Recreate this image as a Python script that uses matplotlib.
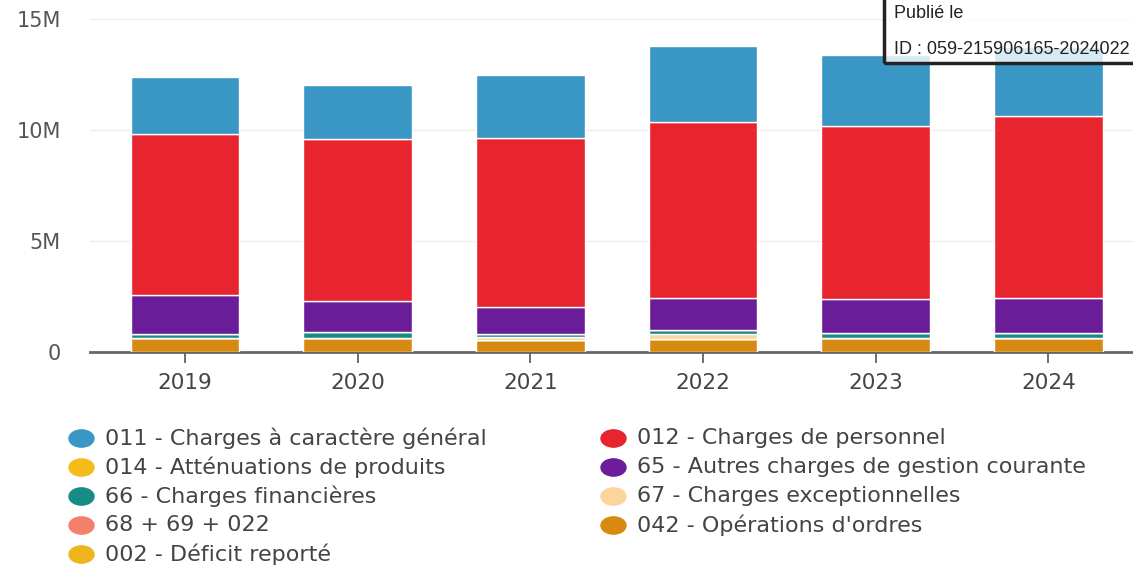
import matplotlib.pyplot as plt
from matplotlib.patches import Rectangle
from matplotlib.lines import Line2D
from matplotlib.markers import MarkerStyle
from matplotlib.path import Path
from matplotlib.transforms import Affine2D
from matplotlib.ticker import FuncFormatter

years = ["2019", "2020", "2021", "2022", "2023", "2024"]

# Dépenses de fonctionnement par chapitre (euros)
ch_042 = [0.63e6, 0.63e6, 0.54e6, 0.58e6, 0.63e6, 0.63e6]
ch_002 = [0, 0, 0, 0, 0, 0]
ch_68_69_022 = [0, 0, 0, 0, 0, 0]
ch_67 = [0, 0, 0.15e6, 0.22e6, 0, 0]
ch_66 = [0.20e6, 0.25e6, 0.12e6, 0.18e6, 0.22e6, 0.22e6]
ch_014 = [0, 0, 0, 0, 0, 0]
ch_65 = [1.72e6, 1.41e6, 1.21e6, 1.43e6, 1.52e6, 1.56e6]
ch_012 = [7.29e6, 7.31e6, 7.61e6, 7.97e6, 7.79e6, 8.24e6]
ch_011 = [2.53e6, 2.44e6, 2.85e6, 3.42e6, 3.23e6, 3.10e6]

# Empilement du bas vers le haut
stack = [
    ("042 - Opérations d'ordres", ch_042, "#d68a12"),
    ("002 - Déficit reporté", ch_002, "#f0b41c"),
    ("68 + 69 + 022", ch_68_69_022, "#f4806c"),
    ("67 - Charges exceptionnelles", ch_67, "#fcd49c"),
    ("66 - Charges financières", ch_66, "#178b86"),
    ("014 - Atténuations de produits", ch_014, "#f5bb1a"),
    ("65 - Autres charges de gestion courante", ch_65, "#6b1d99"),
    ("012 - Charges de personnel", ch_012, "#e8242e"),
    ("011 - Charges à caractère général", ch_011, "#3a96c4"),
]

# Ordre d'affichage de la légende (lignes de deux)
legend_order = [
    "011 - Charges à caractère général", "012 - Charges de personnel",
    "014 - Atténuations de produits", "65 - Autres charges de gestion courante",
    "66 - Charges financières", "67 - Charges exceptionnelles",
    "68 + 69 + 022", "042 - Opérations d'ordres",
    "002 - Déficit reporté",
]

fig = plt.figure(figsize=(11.33, 5.69), dpi=100)
ax = fig.add_axes([90 / 1133, 217 / 569, 1 - 90 / 1133, 333 / 569])

x = range(len(years))
bottom = [0.0] * len(years)
for name, vals, color in stack:
    ax.bar(x, vals, width=0.63, bottom=bottom, color=color,
           edgecolor="white", linewidth=1.0, zorder=3)
    bottom = [b + v for b, v in zip(bottom, vals)]

ax.set_xlim(-0.55, 5.49)
ax.set_ylim(0, 15e6)
ax.set_yticks([0, 5e6, 10e6, 15e6])
ax.yaxis.set_major_formatter(FuncFormatter(lambda v, p: "0" if v == 0 else f"{v / 1e6:.0f}M"))
ax.set_xticks(list(x))
ax.set_xticklabels(years)

ax.grid(axis="y", color="#eeeeee", linewidth=1, zorder=0)
for s in ["top", "right", "left"]:
    ax.spines[s].set_visible(False)
ax.spines["bottom"].set_color("#666666")
ax.spines["bottom"].set_linewidth(2)
ax.tick_params(axis="y", length=0, pad=21, labelsize=15, labelcolor="#555555")
ax.tick_params(axis="x", length=8, width=1.2, color="#555555", pad=7,
               labelsize=15.5, labelcolor="#444444")

# pastilles de légende légèrement ovales
oval = Path.unit_circle().transformed(Affine2D().scale(1.45, 1.0))
dot = MarkerStyle(oval)

colors = {name: color for name, _, color in stack}
for i, name in enumerate(legend_order):
    col, row = i % 2, i // 2
    mx = 81 / 1133 if col == 0 else 613 / 1133
    my = 1 - (438 + row * 29) / 569
    fig.add_artist(Line2D([mx], [my], marker=dot, markersize=18, color=colors[name],
                          linestyle="none", transform=fig.transFigure))
    fig.text(mx + 24 / 1133, my, name, fontsize=16, color="#444444", va="center")

# Cartouche de publication
fig.add_artist(Rectangle((884 / 1133, 1 - 63 / 569), 260 / 1133, 80 / 569,
                         transform=fig.transFigure, facecolor="white", alpha=0.8,
                         edgecolor="none", zorder=5))
fig.add_artist(Rectangle((884 / 1133, 1 - 63 / 569), 260 / 1133, 80 / 569,
                         transform=fig.transFigure, facecolor="none",
                         edgecolor="#222222", linewidth=2.5, zorder=6))
fig.text(894 / 1133, 1 - 14 / 569, "Publié le", family="Liberation Sans",
         fontsize=13, color="#222222", va="center", zorder=7)
fig.text(894 / 1133, 1 - 50 / 569, "ID : 059-215906165-2024022", family="Liberation Sans",
         fontsize=13, color="#222222", va="center", zorder=7)

fig.savefig("out.png", dpi=100)
